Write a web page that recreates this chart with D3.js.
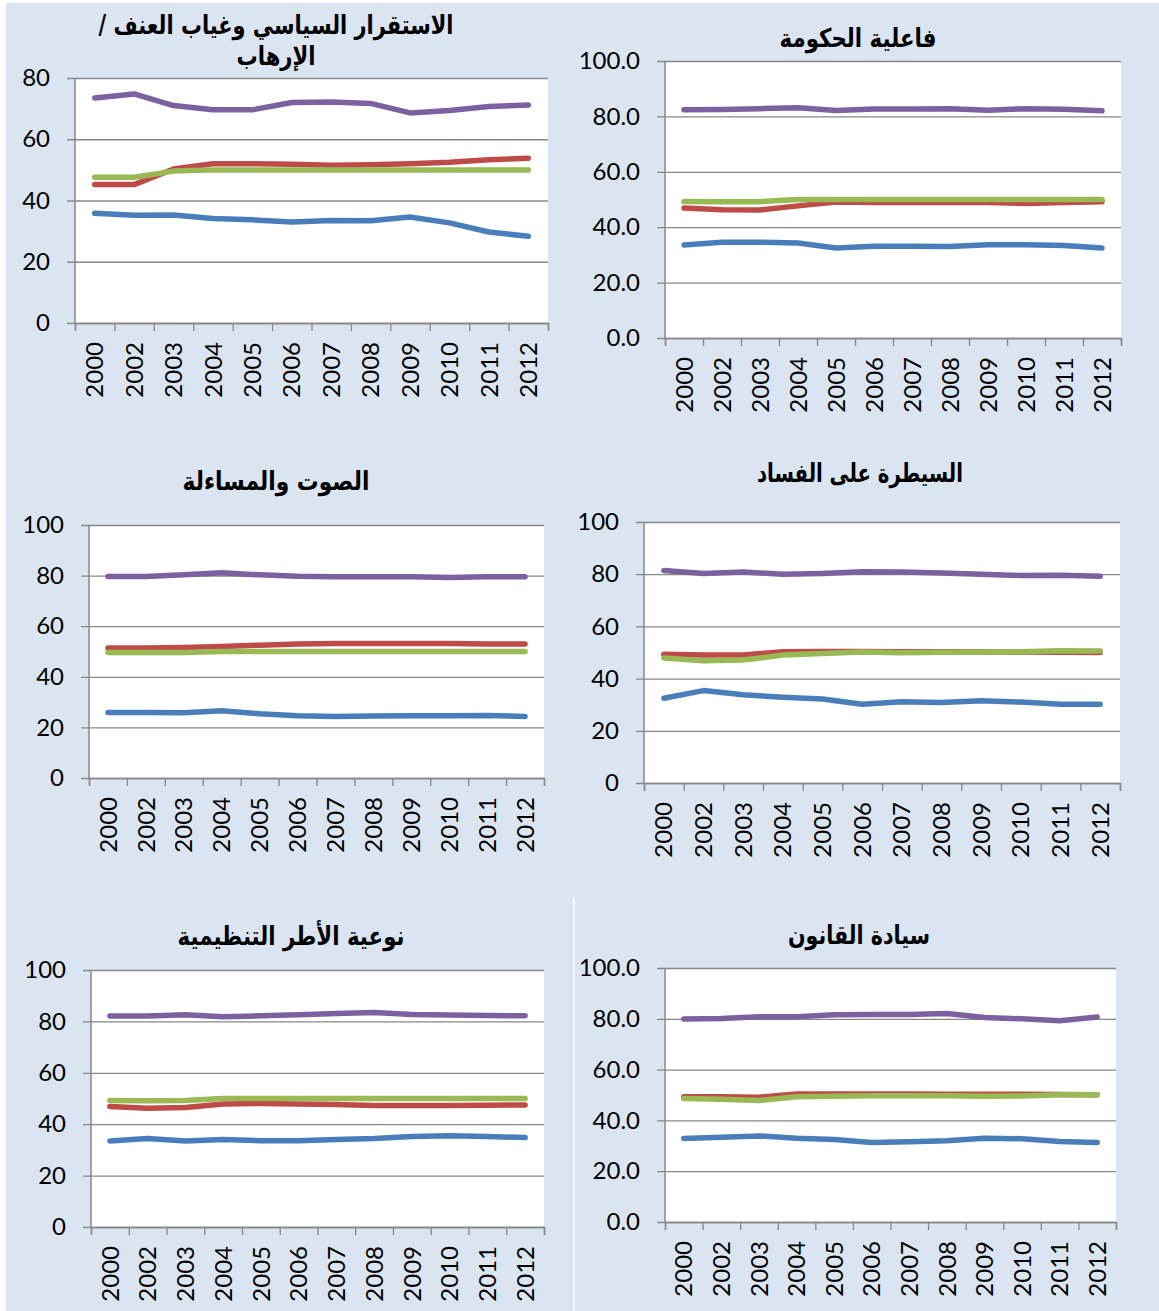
<!DOCTYPE html>
<html lang="ar">
<head>
<meta charset="UTF-8">
<title>Governance indicators 2000-2012</title>
<script src="https://d3js.org/d3.v7.min.js"></script>
<style>
  body { margin: 0; background: #fff; }
  svg { display: block; }
  .tick text { font-family: Lato, "Open Sans", sans-serif; font-size: 24px; fill: #000; }
  .title { font-family: "DejaVu Sans", sans-serif; font-weight: bold; font-size: 26px; fill: #000; direction: rtl; }
</style>
</head>
<body>
<svg width="1159" height="1311"></svg>
<script>
const years = ["2000", "2002", "2003", "2004", "2005", "2006", "2007", "2008", "2009", "2010", "2011", "2012"];
const colors = ["#4a7ebb", "#be4b48", "#98b954", "#7d60a0"];

// each chart: [blue, red, green, purple]
const stability = [
    [35.8, 35.2, 35.3, 34.1, 33.7, 33.0, 33.5, 33.4, 34.6, 32.7, 29.7, 28.3],
    [45.2, 45.2, 50.3, 52.0, 52.0, 51.8, 51.5, 51.7, 52.0, 52.5, 53.3, 53.8],
    [47.6, 47.6, 49.6, 50, 50, 50, 50, 50, 50, 50, 50, 50],
    [73.5, 74.8, 71.0, 69.6, 69.6, 72.0, 72.2, 71.7, 68.6, 69.4, 70.7, 71.2]
];
const govEffect = [
    [33.6, 34.6, 34.6, 34.3, 32.5, 33.1, 33.1, 33.0, 33.7, 33.7, 33.4, 32.5],
    [46.9, 46.3, 46.2, 47.7, 49.1, 48.9, 48.9, 48.9, 48.9, 48.6, 48.9, 49.2],
    [49.3, 49.2, 49.2, 50, 50, 50, 50, 50, 50, 50, 50, 50],
    [82.4, 82.5, 82.8, 83.1, 82.1, 82.7, 82.7, 82.8, 82.2, 82.8, 82.6, 82.0]
];
const voice = [
    [25.9, 25.9, 25.8, 26.6, 25.4, 24.6, 24.3, 24.5, 24.6, 24.6, 24.7, 24.3],
    [51.4, 51.4, 51.6, 52.0, 52.5, 53.0, 53.2, 53.2, 53.2, 53.2, 53.0, 53.0],
    [49.6, 49.6, 49.6, 50, 50, 50, 50, 50, 50, 50, 50, 50],
    [79.6, 79.6, 80.3, 81.1, 80.3, 79.7, 79.5, 79.5, 79.5, 79.2, 79.5, 79.5]
];
const corruption = [
    [32.5, 35.4, 33.8, 32.9, 32.2, 30.2, 31.1, 30.8, 31.5, 31.0, 30.2, 30.2],
    [49.3, 49.0, 49.0, 50.3, 50.4, 50.4, 50.3, 50.3, 50.2, 50.2, 50.1, 50.0],
    [47.9, 46.8, 47.1, 49.0, 49.6, 50.2, 49.9, 50.1, 50.1, 50.3, 50.7, 50.6],
    [81.4, 80.3, 80.8, 80.0, 80.3, 80.9, 80.8, 80.5, 80.0, 79.5, 79.6, 79.2]
];
const regulatory = [
    [33.5, 34.4, 33.5, 34.0, 33.6, 33.6, 34.0, 34.4, 35.2, 35.5, 35.2, 34.8],
    [46.9, 46.2, 46.5, 47.9, 48.1, 47.9, 47.7, 47.3, 47.3, 47.3, 47.4, 47.5],
    [49.2, 49.1, 49.2, 50, 50, 50, 50, 50, 50, 50, 50, 50],
    [82.1, 82.1, 82.6, 81.8, 82.2, 82.6, 83.1, 83.5, 82.7, 82.5, 82.3, 82.2]
];
const ruleOfLaw = [
    [32.9, 33.4, 33.9, 33.0, 32.5, 31.3, 31.6, 32.0, 33.0, 32.8, 31.7, 31.3],
    [49.3, 49.3, 49.1, 50.4, 50.4, 50.4, 50.4, 50.3, 50.3, 50.3, 50.2, 50.1],
    [48.6, 48.3, 47.8, 49.3, 49.5, 49.7, 49.7, 49.7, 49.5, 49.6, 50.1, 50.1],
    [79.9, 80.1, 80.8, 80.8, 81.6, 81.7, 81.7, 82.1, 80.5, 80.0, 79.2, 80.7]
];

const titles = [
    ["الاستقرار السياسي وغياب العنف /", "الإرهاب"],
    ["فاعلية الحكومة"],
    ["الصوت والمساءلة"],
    ["السيطرة على الفساد"],
    ["نوعية الأطر التنظيمية"],
    ["سيادة القانون"]
];

// layout of each small chart (plot box, title position and width)
const panels = [
    { data: stability,  max: 80,  fmt: "d",   x0: 75,  x1: 548,  y0: 78,  y1: 323,  tx: 276, ty: [34, 65], tw: [355, 79] },
    { data: govEffect,  max: 100, fmt: ".1f", x0: 665, x1: 1121, y0: 61,  y1: 338,  tx: 858, ty: [47],     tw: [157] },
    { data: voice,      max: 100, fmt: "d",   x0: 89,  x1: 544,  y0: 525, y1: 778,  tx: 276, ty: [490],    tw: [187] },
    { data: corruption, max: 100, fmt: "d",   x0: 644, x1: 1120, y0: 522, y1: 783,  tx: 860, ty: [482],    tw: [206] },
    { data: regulatory, max: 100, fmt: "d",   x0: 91,  x1: 544,  y0: 970, y1: 1227, tx: 291, ty: [945],    tw: [227] },
    { data: ruleOfLaw,  max: 100, fmt: ".1f", x0: 665, x1: 1116, y0: 968, y1: 1222, tx: 859, ty: [944],    tw: [142] }
];

const svg = d3.select("svg");

// page background with the white edges of the pasted pictures
svg.append("rect").attr("width", 1159).attr("height", 1311).attr("fill", "#dbe5f1");
svg.append("rect").attr("width", 1159).attr("height", 3).attr("fill", "#fff");
svg.append("rect").attr("width", 6).attr("height", 1311).attr("fill", "#fff");
svg.append("rect").attr("x", 573).attr("y", 898).attr("width", 1.5).attr("height", 413).attr("fill", "#fff");

panels.forEach((p, idx) => {
    const g = svg.append("g");

    const x = d3.scaleBand().domain(years).range([p.x0, p.x1]);
    const y = d3.scaleLinear().domain([0, p.max]).range([p.y1, p.y0]);
    const edges = d3.scaleLinear().domain([0, years.length]).range([p.x0, p.x1]);

    g.append("rect")
        .attr("x", p.x0).attr("y", p.y0)
        .attr("width", p.x1 - p.x0).attr("height", p.y1 - p.y0)
        .attr("fill", "#fff");

    // y axis + gridlines
    const yAxis = g.append("g")
        .attr("transform", `translate(${p.x0},0)`)
        .call(d3.axisLeft(y)
            .tickValues(d3.range(0, p.max + 1, 20))
            .tickFormat(d3.format(p.fmt))
            .tickSize(-(p.x1 - p.x0))
            .tickPadding(25));
    yAxis.select(".domain").remove();
    yAxis.selectAll(".tick line")
        .attr("x1", -8)
        .attr("stroke", "#878787")
        .attr("stroke-width", 1.3);

    g.append("line")
        .attr("x1", p.x0).attr("x2", p.x0)
        .attr("y1", p.y0).attr("y2", p.y1)
        .attr("stroke", "#878787").attr("stroke-width", 1.5);

    // x axis: ticks on the category edges, labels in the middle
    const xTicks = g.append("g")
        .attr("transform", `translate(0,${p.y1})`)
        .call(d3.axisBottom(edges).ticks(years.length).tickSize(8).tickFormat(""));
    xTicks.select(".domain").attr("stroke", "#878787").attr("stroke-width", 1.5);
    xTicks.selectAll(".tick line").attr("stroke", "#878787").attr("stroke-width", 1.3);

    const xLabels = g.append("g")
        .attr("transform", `translate(0,${p.y1})`)
        .call(d3.axisBottom(x).tickSize(0));
    xLabels.select(".domain").remove();
    xLabels.selectAll(".tick text")
        .attr("transform", "rotate(-90)")
        .attr("text-anchor", "end")
        .attr("x", -19)
        .attr("y", 0)
        .attr("dy", "0.36em");

    // series
    const line = d3.line()
        .x((d, i) => x(years[i]) + x.bandwidth() / 2)
        .y(d => y(d));

    p.data.forEach((s, i) => {
        g.append("path")
            .datum(s)
            .attr("d", line)
            .attr("fill", "none")
            .attr("stroke", colors[i])
            .attr("stroke-width", 5.5)
            .attr("stroke-linecap", "round")
            .attr("stroke-linejoin", "round");
    });

    // title lines, squeezed to the width they have in the picture
    titles[idx].forEach((t, k) => {
        g.append("text")
            .attr("class", "title")
            .attr("x", p.tx)
            .attr("y", p.ty[k])
            .attr("text-anchor", "middle")
            .attr("textLength", p.tw[k])
            .attr("lengthAdjust", "spacingAndGlyphs")
            .text(t);
    });
});
</script>
</body>
</html>
